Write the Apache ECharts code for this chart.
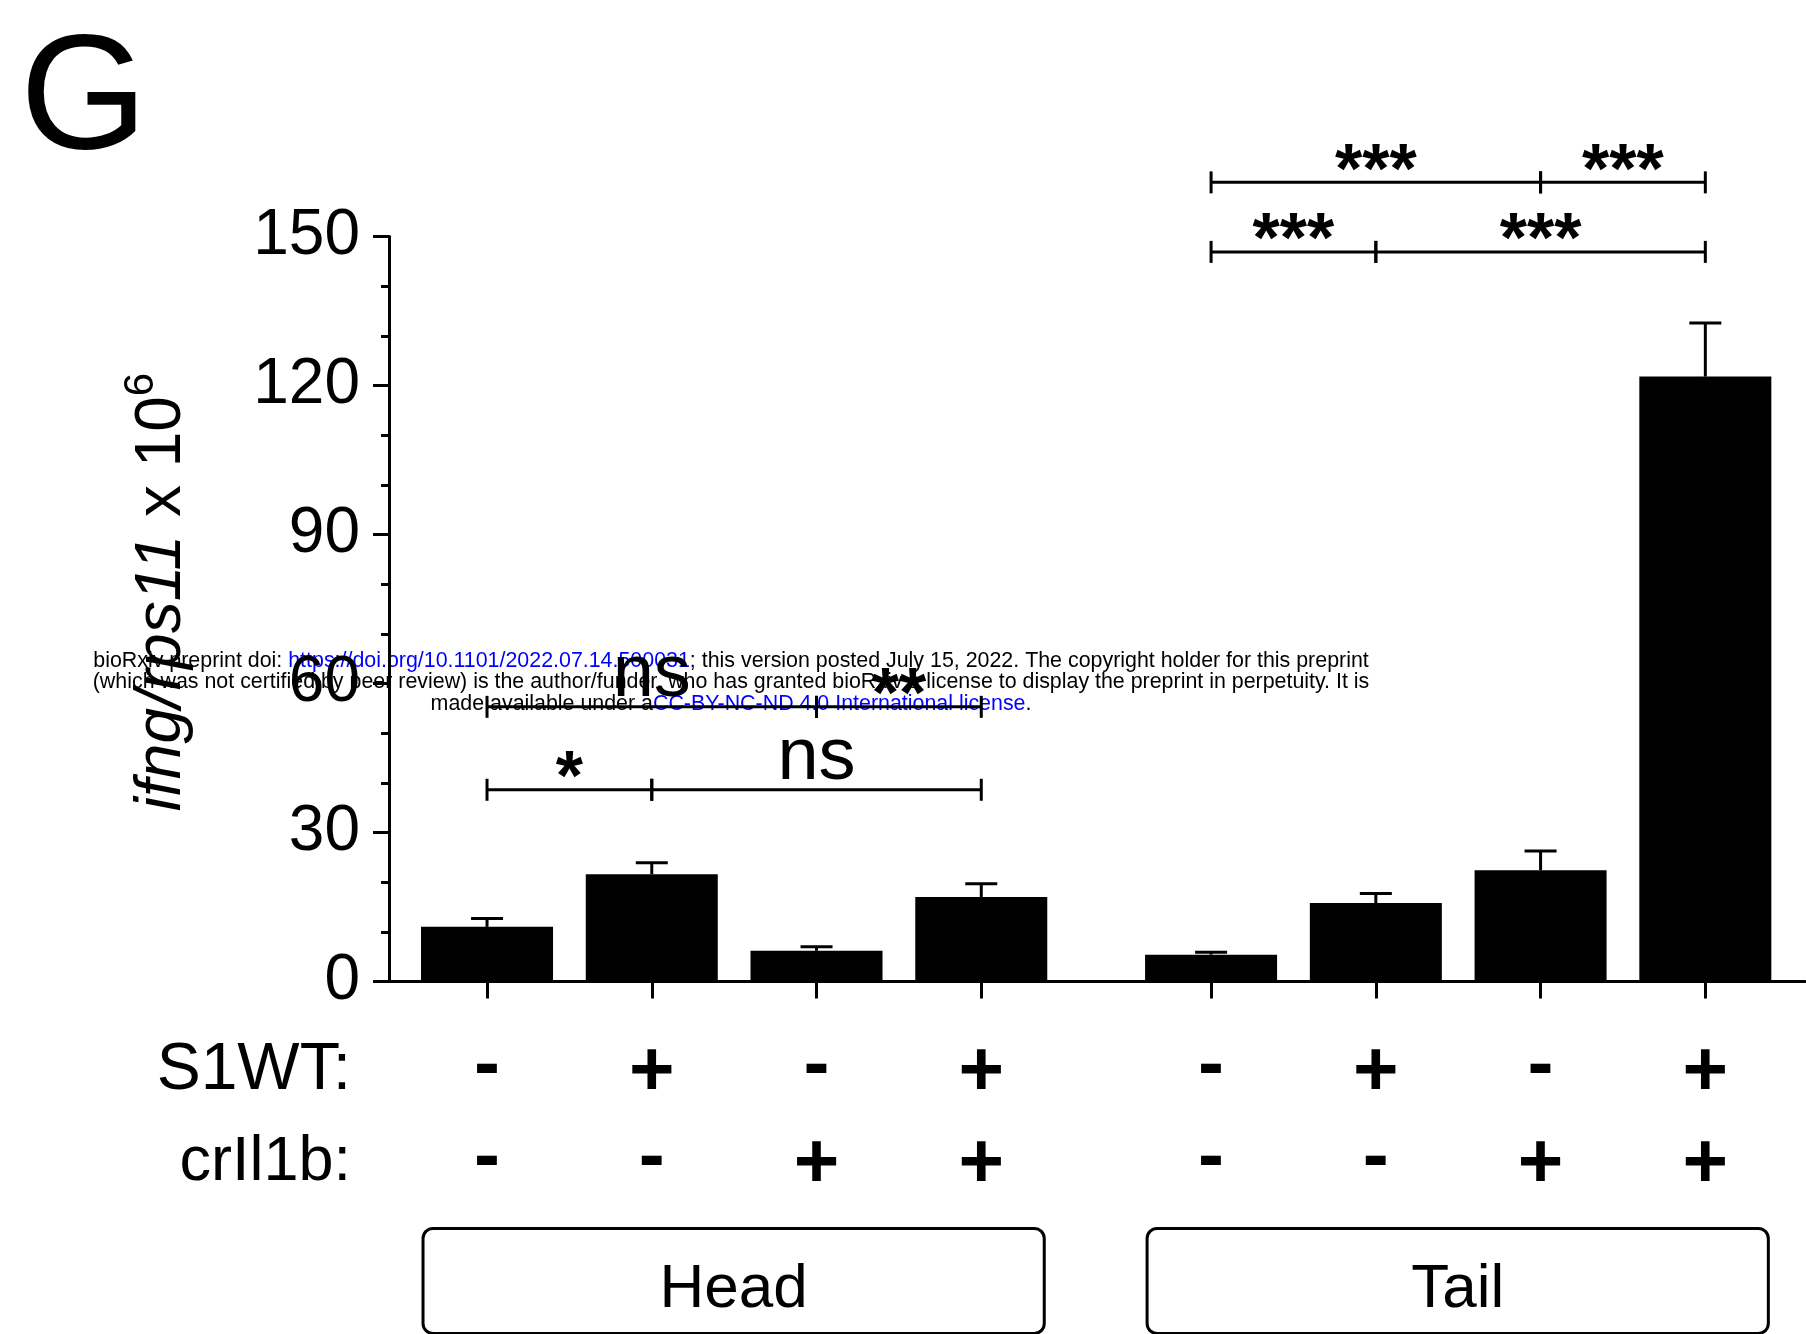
<!DOCTYPE html>
<html>
<head>
<meta charset="utf-8">
<script src="https://cdn.jsdelivr.net/npm/echarts@6/dist/echarts.min.js"></script>
<style>
  html, body { margin: 0; padding: 0; background: #fff; }
  #chart { width: 1806px; height: 1334px; }
</style>
</head>
<body>
<div id="chart"></div>
<script>
// ---- data ----
const groups = ['Head', 'Tail'];
const s1wt   = ['-', '+', '-', '+', '-', '+', '-', '+'];
const crIl1b = ['-', '-', '+', '+', '-', '-', '+', '+'];
const means  = [11.0, 21.6, 6.2, 17.0, 5.4, 15.8, 22.4, 121.8];
const sem    = [1.7, 2.3, 0.8, 2.7, 0.5, 1.9, 3.9, 10.8];

// significance brackets: bar index pairs, height (axis units), label
const bracketFrom = [0, 1, 0, 2, 4, 5, 4, 6];
const bracketTo   = [1, 3, 2, 3, 5, 7, 6, 7];
const bracketY    = [38.6, 38.6, 55.3, 55.3, 146.9, 146.9, 160.9, 160.9];
const bracketText = ['*', 'ns', 'ns', '**', '***', '***', '***', '***'];

const yMin = 0, yMax = 150, yStep = 30;

const preprintLines = [
  ['bioRxiv preprint doi: ', 'https://doi.org/10.1101/2022.07.14.500031', '; this version posted July 15, 2022. The copyright holder for this preprint'],
  ['(which was not certified by peer review) is the author/funder, who has granted bioRxiv a license to display the preprint in perpetuity. It is', '', ''],
  ['made available under a', 'CC-BY-NC-ND 4.0 International license', '.']
];

// ---- layout ----
const FONT = '"Liberation Sans", Arial, Helvetica, sans-serif';
const BAR_W = 132;
const CAP_W = 32;
const GROUP_STRIDE = 4.395;   // x distance between first bars of consecutive groups
const xPos = means.map((_, i) => Math.floor(i / 4) * GROUP_STRIDE + (i % 4));

function txt(x, y, text, o) {
  o = o || {};
  return {
    type: 'text', x: x, y: y, rotation: o.rotation || 0,
    style: {
      text: text, fill: o.fill || '#000',
      fontSize: o.size || 60, fontFamily: FONT,
      fontWeight: o.weight || 'normal', fontStyle: o.style || 'normal',
      align: o.align || 'center', verticalAlign: o.valign || 'middle',
      textAlign: o.align || 'center', textVerticalAlign: o.valign || 'middle',
      rich: o.rich
    }
  };
}

function errorBar(params, api) {
  const x = api.value(0), m = api.value(1), e = api.value(2);
  const p0 = api.coord([x, m]);
  const p1 = api.coord([x, m + e]);
  const st = { stroke: '#000', lineWidth: 3 };
  return {
    type: 'group', children: [
      { type: 'line', shape: { x1: p0[0], y1: p0[1], x2: p1[0], y2: p1[1] }, style: st },
      { type: 'line', shape: { x1: p1[0] - CAP_W / 2, y1: p1[1], x2: p1[0] + CAP_W / 2, y2: p1[1] }, style: st }
    ]
  };
}

function bracket(params, api) {
  const i = params.dataIndex;
  const a = api.coord([xPos[bracketFrom[i]], bracketY[i]]);
  const b = api.coord([xPos[bracketTo[i]], bracketY[i]]);
  const st = { stroke: '#000', lineWidth: 3 };
  const label = bracketText[i];
  const isNs = label === 'ns';
  const ly = a[1] - (isNs ? 31 : 9);
  return {
    type: 'group', children: [
      { type: 'line', shape: { x1: a[0], y1: a[1], x2: b[0], y2: b[1] }, style: st },
      { type: 'line', shape: { x1: a[0], y1: a[1] - 11, x2: a[0], y2: a[1] + 11 }, style: st },
      { type: 'line', shape: { x1: b[0], y1: b[1] - 11, x2: b[0], y2: b[1] + 11 }, style: st },
      txt((a[0] + b[0]) / 2, ly, label, isNs ? { size: 74 } : { size: 70, weight: 'bold' })
    ]
  };
}

function signRow(params, api) {
  const i = params.dataIndex;
  const p = api.coord([api.value(0), 0]);
  const dy = function (s) { return s === '-' ? -6 : 0; };
  const o = { size: 78, weight: 'bold' };
  return {
    type: 'group', children: [
      txt(p[0], p[1] + 92 + dy(s1wt[i]), s1wt[i], o),
      txt(p[0], p[1] + 184 + dy(crIl1b[i]), crIl1b[i], o)
    ]
  };
}

function groupBox(params, api) {
  const k = params.dataIndex;
  const a = api.coord([api.value(0), 0]);
  const b = api.coord([api.value(1), 0]);
  const left = a[0] - BAR_W / 2 + 2, right = b[0] + BAR_W / 2 - 3;
  return {
    type: 'group', children: [
      { type: 'rect', shape: { x: left, y: a[1] + 247, width: right - left, height: 105, r: 10 },
        style: { fill: 'none', stroke: '#000', lineWidth: 3 } },
      txt((left + right) / 2, a[1] + 308, groups[k], { size: 62 })
    ]
  };
}

const blackLine = { color: '#000', width: 3 };

const preprintGraphics = preprintLines.map(function (parts, j) {
  const t = '{k|' + parts[0] + '}' + (parts[1] ? '{b|' + parts[1] + '}' : '') + (parts[2] ? '{k|' + parts[2] + '}' : '');
  return txt(731, 661 + j * 21.5, t, {
    size: 21.4,
    rich: {
      k: { fill: '#000', fontSize: 21.4, fontFamily: FONT },
      b: { fill: '#0000ff', fontSize: 21.4, fontFamily: FONT }
    }
  });
});

const option = {
  animation: false,
  backgroundColor: '#fff',
  grid: { left: 389, top: 236.5, right: 1, bottom: 352.5 },
  xAxis: {
    type: 'value', min: -0.595, max: 8.0,
    axisLine: { show: true, onZero: false, lineStyle: blackLine },
    axisTick: { show: true, customValues: xPos, length: 17, lineStyle: blackLine },
    axisLabel: { show: false, customValues: xPos },
    splitLine: { show: false }
  },
  yAxis: {
    type: 'value', min: yMin, max: yMax, interval: yStep,
    axisLine: { show: true, onZero: false, lineStyle: blackLine },
    axisTick: { show: true, length: 16, lineStyle: blackLine },
    minorTick: { show: true, splitNumber: 3, length: 8, lineStyle: blackLine },
    axisLabel: { fontSize: 64, color: '#000', fontFamily: FONT, margin: 29 },
    splitLine: { show: false },
    minorSplitLine: { show: false }
  },
  series: [
    {
      type: 'bar', barWidth: BAR_W, z: 2,
      itemStyle: { color: '#000' },
      data: xPos.map((x, i) => [x, means[i]])
    },
    {
      type: 'custom', z: 3, clip: false, renderItem: errorBar,
      data: xPos.map((x, i) => [x, means[i], sem[i]])
    },
    {
      type: 'custom', z: 4, clip: false, renderItem: bracket,
      data: bracketY.map((y, i) => [xPos[bracketFrom[i]], y])
    },
    {
      type: 'custom', z: 4, clip: false, renderItem: signRow,
      data: xPos.map(x => [x, 0])
    },
    {
      type: 'custom', z: 4, clip: false, renderItem: groupBox,
      data: groups.map((g, k) => [xPos[k * 4], xPos[k * 4 + 3]])
    }
  ],
  graphic: [
    txt(20, 103, 'G', { size: 164, align: 'left' }),
    txt(157, 592, '{it|ifng/rps11}{n| x 10}{sup|6}', {
      size: 64, rotation: Math.PI / 2,
      rich: {
        it: { fontStyle: 'italic', fontSize: 64, fontFamily: FONT, fill: '#000', verticalAlign: 'bottom', lineHeight: 74 },
        n: { fontSize: 64, fontFamily: FONT, fill: '#000', verticalAlign: 'bottom', lineHeight: 74 },
        sup: { fontSize: 42, fontFamily: FONT, fill: '#000', verticalAlign: 'top', lineHeight: 42 }
      }
    }),
    txt(351, 1071, 'S1WT:', { size: 66, align: 'right' }),
    txt(351, 1163, 'crIl1b:', { size: 63, align: 'right' })
  ].concat(preprintGraphics)
};

const chart = echarts.init(document.getElementById('chart'), null, { renderer: 'canvas' });
chart.setOption(option);
</script>
</body>
</html>
